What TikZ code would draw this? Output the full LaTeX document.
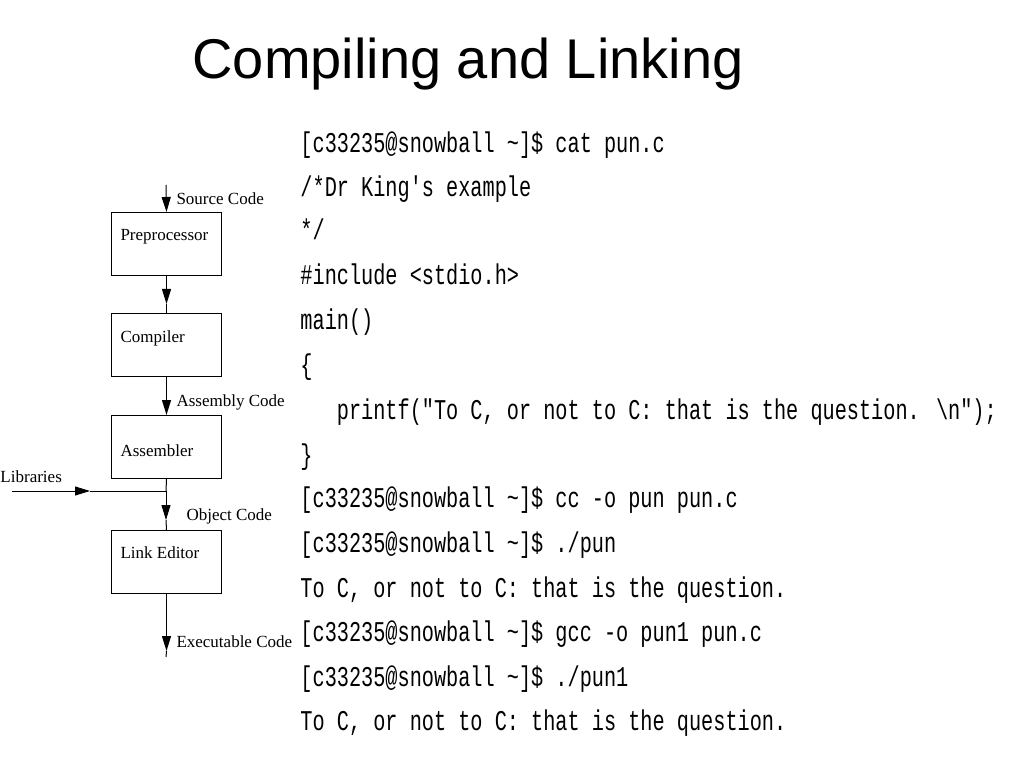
\documentclass[tikz,border=0pt]{standalone}
\usepackage{fontspec}
\setmainfont{Liberation Serif}
\newfontfamily\sansf{Liberation Sans}
\newfontfamily\monof{Liberation Mono}
\usetikzlibrary{arrows.meta}
\begin{document}
\begin{tikzpicture}[x=1pt,y=-1pt,
  box/.style={draw,line width=1pt,minimum width=110pt,minimum height=63pt,anchor=north west,inner sep=0pt},
  lbl/.style={font=\fontsize{17}{17}\selectfont,anchor=west,inner sep=0pt},
  code/.style={font=\fontsize{22}{22}\monof,anchor=base west,inner sep=0pt,xscale=0.92,yscale=1.3,transform shape},
  tip/.style={-{Triangle[width=9pt,length=15pt]}},
  line width=1pt]
\useasboundingbox (0,0) rectangle (1023,767);
\node[font=\fontsize{56}{56}\sansf] (title) at (468,64) {Compiling and Linking};
% boxes
\node[box] (pre) at (111,212) {};
\node[box] (comp) at (111,313) {};
\node[box] (asm) at (111,415) {};
\node[box] (link) at (111,530) {};
\node[lbl,anchor=base west] (tpre) at (120,241) {Preprocessor};
\node[lbl,anchor=base west] (tcomp) at (120,342) {Compiler};
\node[lbl,anchor=base west] (tasm) at (120,456) {Assembler};
\node[lbl,anchor=base west] (tlink) at (120,558) {Link Editor};
\coordinate (src) at (166,185);
\coordinate (junc) at (166,491);
\coordinate (lib) at (12,491);
\coordinate (exe) at (166,657);
\draw[tip] (src) -- (pre.north);
\draw[tip] (pre.south) -- ++(0,28) coordinate (m1);
\draw (m1) -- (comp.north);
\draw[tip] (comp.south) -- (asm.north);
\draw (asm.south) -- (junc);
\draw[tip] (junc) -- ++(0,29) coordinate (m2);
\draw (m2) -- (link.north);
\draw[tip] (lib) -- ++(78,0) coordinate (m3);
\draw (m3) -- (junc);
\draw[tip] (link.south) -- ++(0,57) coordinate (m4);
\draw (m4) -- (exe);
\node[lbl,anchor=base west] (lsrc) at (176,205) {Source Code};
\node[lbl,anchor=base west] (lasm) at (176,406) {Assembly Code};
\node[lbl,anchor=base west] (lobj) at (186,520) {Object Code};
\node[lbl,anchor=base west] (lexe) at (176,647) {Executable Code};
\node[lbl,anchor=base west] (llib) at (0,482) {Libraries};
% code
\node[code] (c1) at (300,153) {[c33235@snowball \textasciitilde]\$ cat pun.c};
\node[code] (c2) at (300,197) {/*Dr King's example};
\node[code] (c3) at (300,240) {*/};
\node[code] (c4) at (300,285) {\#include <stdio.h>};
\node[code] (c5) at (300,330) {main()};
\node[code] (c6) at (300,374) {\{};
\node[code] (c7) at (300,419) {\ \ \ printf("To C, or not to C: that is the question. \textbackslash n");};
\node[code] (c8) at (300,464) {\}};
\node[code] (c9) at (300,507) {[c33235@snowball \textasciitilde]\$ cc -o pun pun.c};
\node[code] (c10) at (300,552) {[c33235@snowball \textasciitilde]\$ ./pun};
\node[code] (c11) at (300,597) {To C, or not to C: that is the question.};
\node[code] (c12) at (300,641) {[c33235@snowball \textasciitilde]\$ gcc -o pun1 pun.c};
\node[code] (c13) at (300,686) {[c33235@snowball \textasciitilde]\$ ./pun1};
\node[code] (c14) at (300,730) {To C, or not to C: that is the question.};
\end{tikzpicture}
\end{document}
